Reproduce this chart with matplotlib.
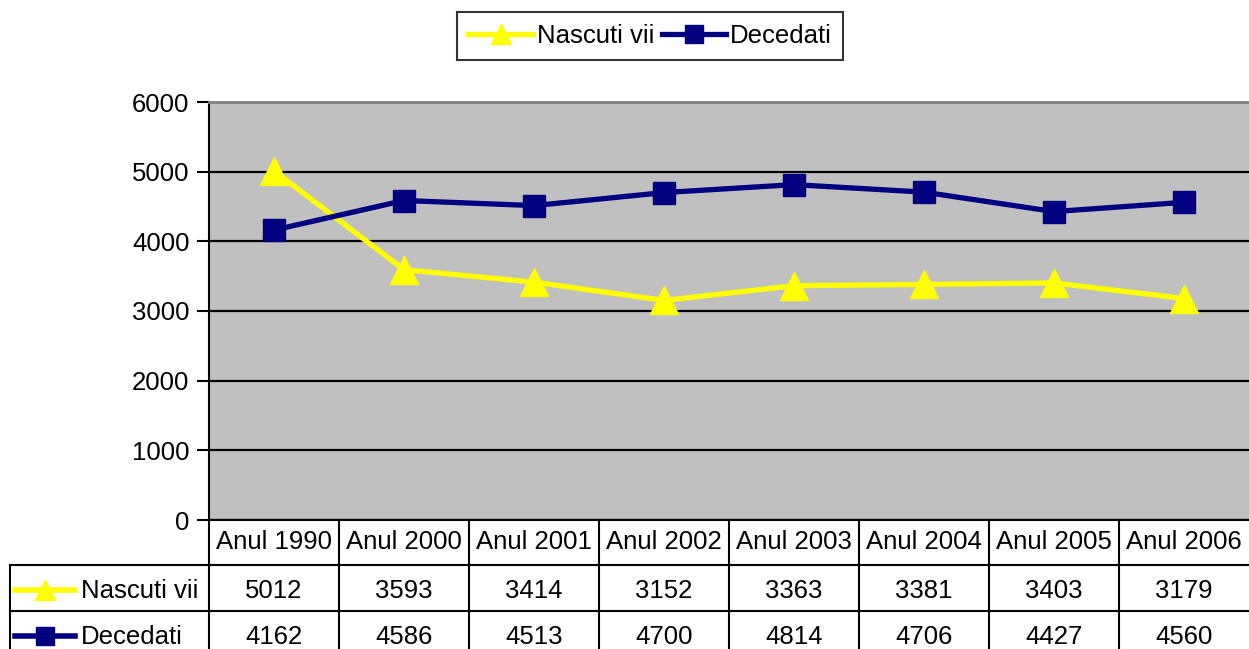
import matplotlib
matplotlib.use("Agg")
import matplotlib.pyplot as plt
import numpy as np

plt.rcParams['font.family'] = ['Liberation Sans', 'DejaVu Sans']

# data
years = ['Anul 1990', 'Anul 2000', 'Anul 2001', 'Anul 2002',
         'Anul 2003', 'Anul 2004', 'Anul 2005', 'Anul 2006']
nascuti = [5012, 3593, 3414, 3152, 3363, 3381, 3403, 3179]
decedati = [4162, 4586, 4513, 4700, 4814, 4706, 4427, 4560]
series_names = ['Nascuti vii', 'Decedati']

W, H = 1249, 649
fs = 18.5
yellow = '#FFFF00'
navy = '#000080'

fig = plt.figure(figsize=(W / 100, H / 100), dpi=100)

# main plot area (pixel box: x 209..1249, y 102..520)
ax = fig.add_axes([209 / W, (H - 520) / H, 1040 / W, 418 / H])
ax.set_facecolor('#C0C0C0')
x = np.arange(len(years))

ax.plot(x, nascuti, color=yellow, lw=3.8, marker='^', ms=20,
        markeredgecolor=yellow, label=series_names[0], zorder=3)
ax.plot(x, decedati, color=navy, lw=3.8, marker='s', ms=16.5,
        markeredgecolor=navy, label=series_names[1], zorder=4)

ax.set_xlim(-0.5, len(years) - 0.5)
ax.set_ylim(0, 6000)
ax.set_yticks(np.arange(0, 6001, 1000))
ax.set_xticks([])
ax.tick_params(axis='y', direction='out', length=9, width=1.5,
               labelsize=fs, pad=5)
ax.yaxis.grid(True, color='black', lw=1.6)
ax.set_axisbelow(True)
ax.yaxis.get_gridlines()[-1].set_visible(False)
ax.spines['right'].set_visible(False)
ax.spines['top'].set_color('#808080')
ax.spines['top'].set_linewidth(2)
ax.spines['left'].set_linewidth(1.5)
ax.spines['bottom'].set_linewidth(1.5)

# legend on top
fig.legend(loc='center', bbox_to_anchor=(650 / W, 1 - 36 / H), ncol=2,
           fontsize=fs, frameon=True, fancybox=False, edgecolor='black',
           handlelength=2.5, handletextpad=0.15, columnspacing=0.3,
           borderpad=0.45, borderaxespad=0, markerscale=0.75)
fig.legends[0].get_frame().set_linewidth(1.5)

# data table under the chart, drawn in pixel coordinates
tax = fig.add_axes([0, 0, 1, 129 / H])
tax.set_xlim(0, W)
tax.set_ylim(649, 520)
tax.axis('off')

col_w = 130
x0 = 209
label_left = 10
row_lines = [520, 565, 611, 657]

# header row
tax.plot([x0, W], [565, 565], color='black', lw=1.5)
for i, yr in enumerate(years):
    tax.plot([x0 + i * col_w] * 2, [520, 649], color='black', lw=1.5)
    tax.text(x0 + (i + 0.5) * col_w, 542, yr, ha='center', va='center',
             fontsize=fs)
tax.plot([label_left, W], [611, 611], color='black', lw=1.5)
tax.plot([label_left, label_left], [565, 649], color='black', lw=1.5)
tax.plot([label_left, x0], [565, 565], color='black', lw=1.5)

rows = [(series_names[0], nascuti, yellow, '^', 15),
        (series_names[1], decedati, navy, 's', 12.5)]
for r, (name, vals, c, m, ms) in enumerate(rows):
    yc = (row_lines[r + 1] + row_lines[r + 2]) / 2 + 3
    tax.plot([15, 75], [yc - 1, yc - 1], color=c, lw=4)
    tax.plot([45], [yc - 1], marker=m, ms=ms, color=c, markeredgecolor=c)
    tax.text(81, yc, name, ha='left', va='center', fontsize=fs)
    for i, v in enumerate(vals):
        tax.text(x0 + (i + 0.5) * col_w, yc, str(v), ha='center',
                 va='center', fontsize=fs)

fig.savefig('out.png', dpi=100)
